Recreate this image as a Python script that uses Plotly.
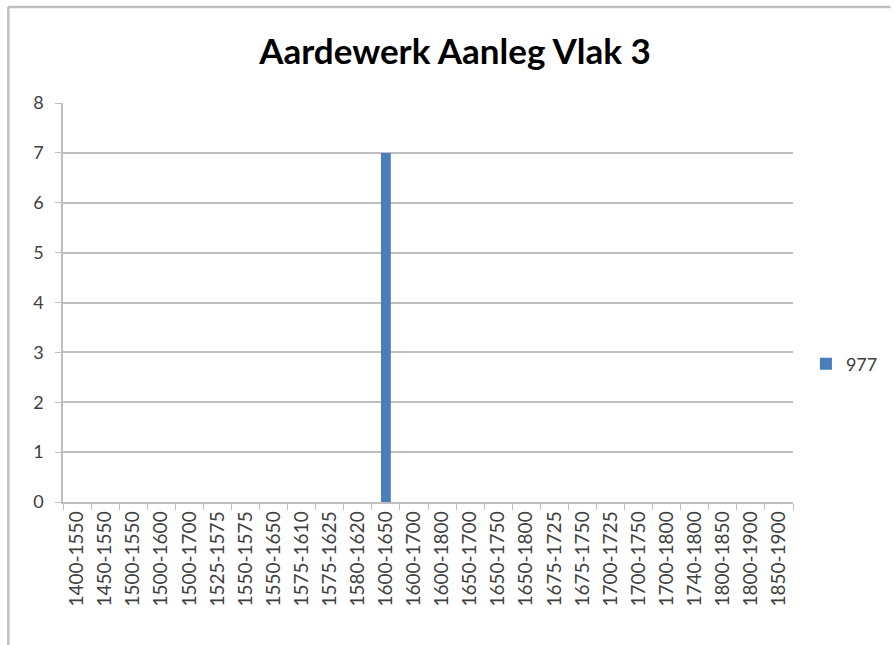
import plotly.graph_objects as go

categories = ["1400-1550", "1450-1550", "1500-1550", "1500-1600", "1500-1700",
              "1525-1575", "1550-1575", "1550-1650", "1575-1610", "1575-1625",
              "1580-1620", "1600-1650", "1600-1700", "1600-1800", "1650-1700",
              "1650-1750", "1650-1800", "1675-1725", "1675-1750", "1700-1725",
              "1700-1750", "1700-1800", "1740-1800", "1800-1850", "1800-1900",
              "1850-1900"]
values_977 = [0, 0, 0, 0, 0, 0, 0, 0, 0, 0, 0, 7, 0, 0, 0, 0, 0, 0, 0, 0, 0, 0, 0, 0, 0, 0]
series_name = "977"
y_ticks = [0, 1, 2, 3, 4, 5, 6, 7, 8]

W, H = 895, 645
L, R, T, B = 63, 98, 103, 143
pw, ph = W - L - R, H - T - B

fig = go.Figure()
fig.add_trace(go.Bar(x=categories, y=values_977, name=series_name,
                     marker=dict(color="#4A7EBB", line=dict(width=0)),
                     width=0.35))

def px_x(x):
    return (x - L) / pw

def px_y(y):
    return (H - B - y) / ph

fig.update_layout(
    width=W, height=H,
    margin=dict(l=L, r=R, t=T, b=B),
    paper_bgcolor="white", plot_bgcolor="white",
    font=dict(family="Lato, Calibri, sans-serif", color="#404040"),
    title=dict(text="<b>Aardewerk Aanleg Vlak 3</b>", x=455 / W, xanchor="center",
               y=1 - 52 / H, yanchor="middle",
               font=dict(size=35, color="#000000", family="Lato, Calibri, sans-serif")),
    showlegend=True,
    legend=dict(x=px_x(810), y=px_y(364), xanchor="left", yanchor="middle",
                font=dict(size=18, color="#404040"), itemwidth=30,
                bgcolor="rgba(0,0,0,0)"),
    xaxis=dict(type="category", showline=True, linecolor="#BFBFBF", linewidth=1.5,
               ticks="outside", tickson="boundaries", ticklen=6, tickcolor="#BFBFBF",
               tickangle=-90, tickfont=dict(size=19, color="#404040"),
               showgrid=False, range=[-0.5, len(categories) - 0.5]),
    yaxis=dict(range=[0, 8], tickvals=y_ticks, showline=True, linecolor="#BFBFBF",
               linewidth=1.5, ticks="outside", ticklen=6, tickcolor="#BFBFBF",
               showgrid=True, gridcolor="#BFBFBF", gridwidth=1.5,
               ticklabelstandoff=8,
               tickfont=dict(size=18, color="#404040"), zeroline=False),
    bargap=0.65,
    shapes=[
        dict(type="line", xref="paper", yref="paper",
             x0=px_x(8), x1=px_x(8), y0=px_y(7), y1=px_y(645),
             line=dict(color="#BFBFBF", width=2.5)),
        dict(type="line", xref="paper", yref="paper",
             x0=px_x(8), x1=px_x(895), y0=px_y(7), y1=px_y(7),
             line=dict(color="#BFBFBF", width=2.5)),
    ],
)

fig.write_html("out.html", config={"displayModeBar": False},
               post_script="document.body.style.margin='0px';document.body.style.padding='0px';")
